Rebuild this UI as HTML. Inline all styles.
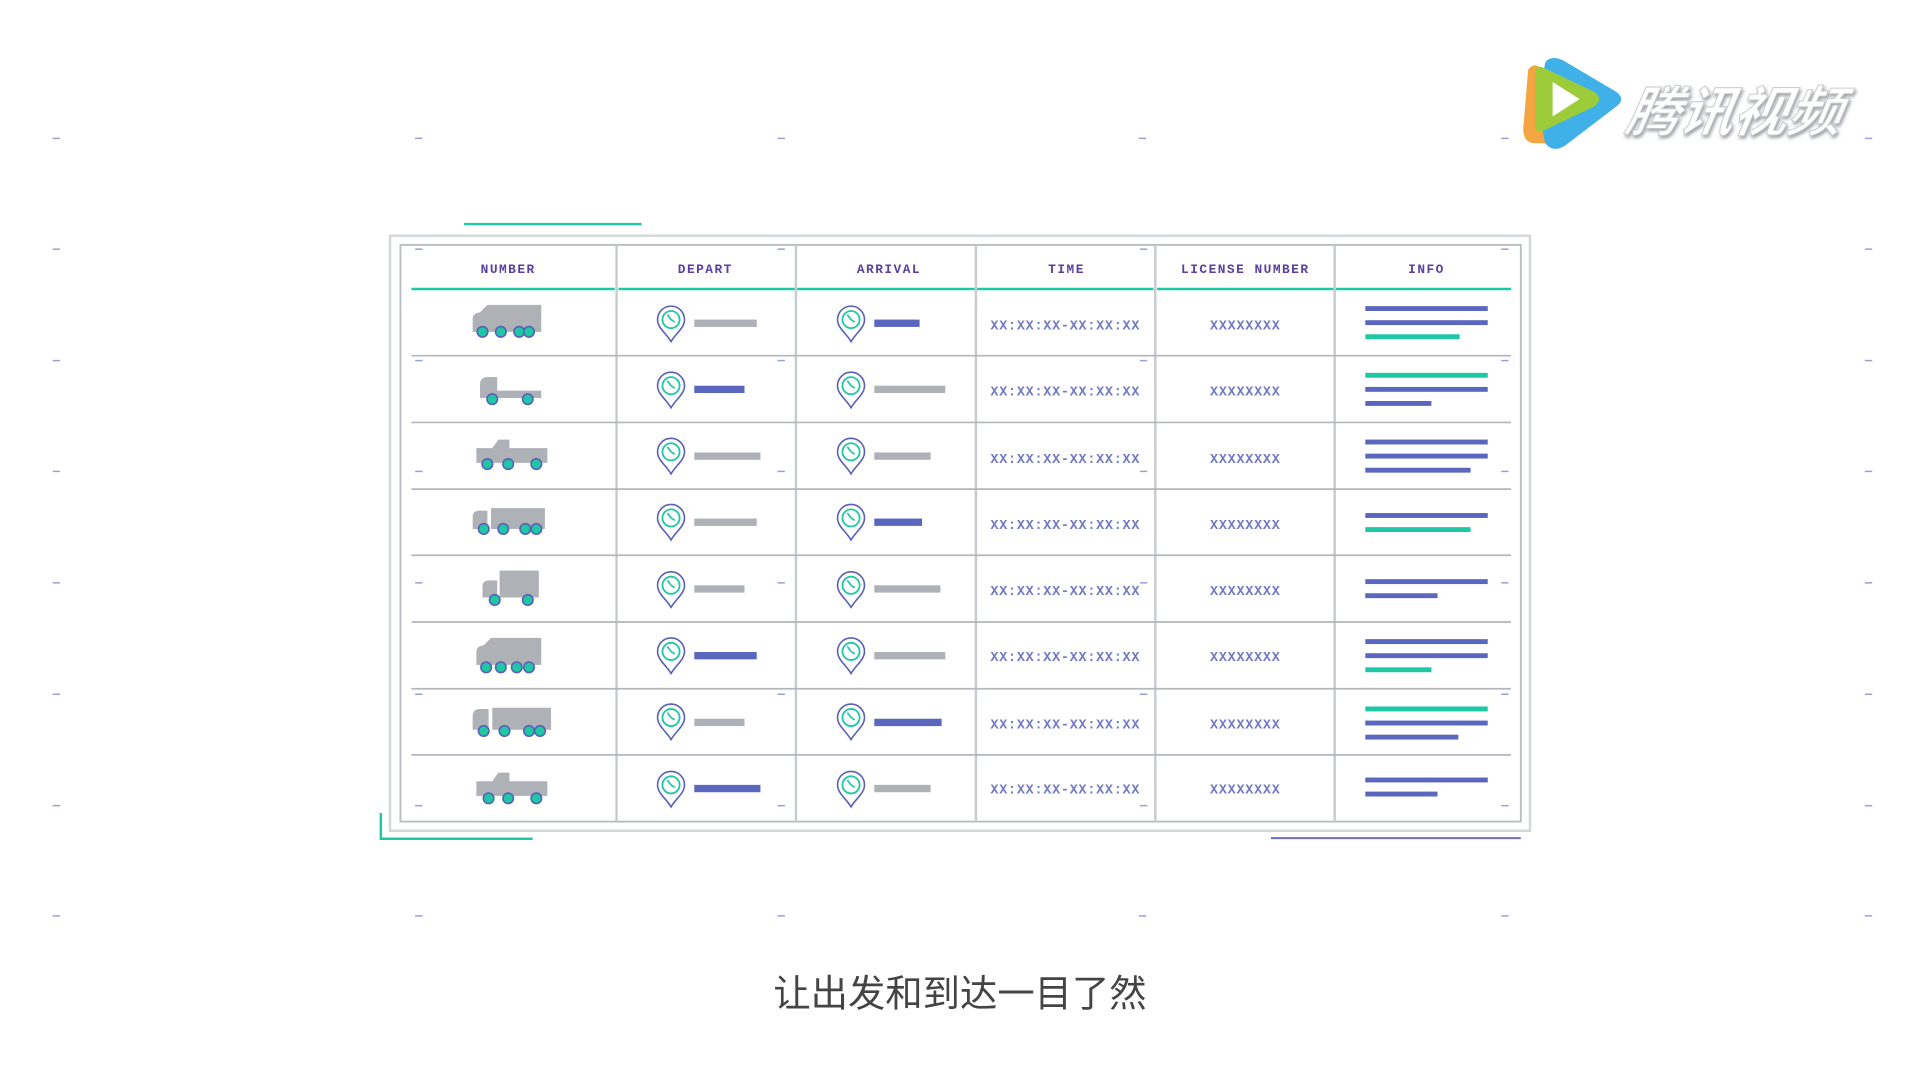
<!DOCTYPE html>
<html><head><meta charset="utf-8"><style>
html,body{margin:0;padding:0;background:#fff;width:1920px;height:1072px;overflow:hidden}
svg{display:block}
.h{font-family:"Liberation Mono",monospace;font-weight:bold;font-size:10.5px;fill:#5a3fa0;letter-spacing:1.2px;text-anchor:middle}
.t{font-family:"Liberation Mono",monospace;font-size:11px;fill:#7178c4;letter-spacing:0.6px;text-anchor:middle;font-weight:bold}
</style></head><body>
<svg width="1920" height="1072" viewBox="0 0 1568 875.5" xmlns="http://www.w3.org/2000/svg">
<defs>
<g id="pin"><path d="M0,13 C-4,6 -11,2 -11,-5 A11,11 0 0 1 11,-5 C11,2 4,6 0,13 Z" fill="#fff" stroke="#5b5fb8" stroke-width="1.3"/><circle cx="0" cy="-5" r="7" fill="none" stroke="#1ec8a5" stroke-width="1.5"/><path d="M0,-5 L-3,-9 M0,-5 L3,-3" stroke="#1ec8a5" stroke-width="1.4"/></g>
<g id="whA"><circle r="4.3" fill="#1ec8a5" stroke="#5b5fb8" stroke-width="1.3"/></g>
<filter id="sh" x="-10%" y="-10%" width="130%" height="140%"><feDropShadow dx="1.5" dy="2" stdDeviation="1.2" flood-color="#8a8d91" flood-opacity="0.8"/></filter>
</defs>
<g stroke="#9a9fd6" stroke-width="1.2">
<g id="dc"><line x1="43" y1="113" x2="49" y2="113"/><line x1="43" y1="203.5" x2="49" y2="203.5"/><line x1="43" y1="294.5" x2="49" y2="294.5"/><line x1="43" y1="385" x2="49" y2="385"/><line x1="43" y1="476" x2="49" y2="476"/><line x1="43" y1="567" x2="49" y2="567"/><line x1="43" y1="658" x2="49" y2="658"/><line x1="43" y1="748" x2="49" y2="748"/></g>
<use href="#dc" x="296"/><use href="#dc" x="592"/><use href="#dc" x="887"/><use href="#dc" x="1183"/><use href="#dc" x="1480"/>
</g>
<line x1="379" y1="183" x2="524" y2="183" stroke="#1ec8a5" stroke-width="2"/>
<path d="M311,664 L311,685 L435,685" fill="none" stroke="#1ec8a5" stroke-width="2"/>
<line x1="1038" y1="684.5" x2="1242" y2="684.5" stroke="#6c6fc2" stroke-width="1.6"/>
<rect x="318.5" y="192.5" width="931" height="486" fill="#fff" stroke="#d4d7da" stroke-width="2"/>
<rect x="327" y="200" width="915" height="471" fill="#fff" stroke="#b8bbbf" stroke-width="1.5"/>
<g stroke="#9a9fd6" stroke-width="1.2">
<g id="dc2"><line x1="339" y1="203.5" x2="345" y2="203.5"/><line x1="339" y1="294.5" x2="345" y2="294.5"/><line x1="339" y1="385" x2="345" y2="385"/><line x1="339" y1="476" x2="345" y2="476"/><line x1="339" y1="567" x2="345" y2="567"/><line x1="339" y1="658" x2="345" y2="658"/></g>
<use href="#dc2" x="296"/><use href="#dc2" x="592"/><use href="#dc2" x="887"/>
</g>
<g stroke="#c8cbce" stroke-width="2">
<line x1="503.5" y1="200" x2="503.5" y2="671"/><line x1="650" y1="200" x2="650" y2="671"/><line x1="797" y1="200" x2="797" y2="671"/><line x1="943.5" y1="200" x2="943.5" y2="671"/><line x1="1090" y1="200" x2="1090" y2="671"/>
</g>
<g stroke="#b3b6ba" stroke-width="1.4">
<line x1="336" y1="290.5" x2="1234" y2="290.5"/><line x1="336" y1="345" x2="1234" y2="345"/><line x1="336" y1="399.5" x2="1234" y2="399.5"/><line x1="336" y1="453.5" x2="1234" y2="453.5"/><line x1="336" y1="508" x2="1234" y2="508"/><line x1="336" y1="562.5" x2="1234" y2="562.5"/><line x1="336" y1="616.5" x2="1234" y2="616.5"/>
</g>
<g stroke="#1ec8a5" stroke-width="2"><line x1="336" y1="236" x2="502" y2="236"/><line x1="505" y1="236" x2="649" y2="236"/><line x1="651" y1="236" x2="796" y2="236"/><line x1="798" y1="236" x2="942" y2="236"/><line x1="945" y1="236" x2="1089" y2="236"/><line x1="1091" y1="236" x2="1234" y2="236"/></g>
<text class="h" x="415" y="223">NUMBER</text><text class="h" x="576" y="223">DEPART</text><text class="h" x="726" y="223">ARRIVAL</text><text class="h" x="871" y="223">TIME</text><text class="h" x="1017" y="223">LICENSE NUMBER</text><text class="h" x="1165" y="223">INFO</text>
<g fill="#aeb1b5">
<g transform="translate(415,263)"><path d="M-29,8 L-29,-3 Q-29,-7 -23,-8 L-17,-14 L27,-14 L27,8 Z"/><use href="#whA" x="-21" y="8"/><use href="#whA" x="-6" y="8"/><use href="#whA" x="9" y="8"/><use href="#whA" x="17" y="8"/></g>
<g transform="translate(415,318)"><path d="M-23,7 L-23,-4 Q-23,-10 -17,-10 L-9,-10 L-9,1 L27,1 L27,7 Z"/><use href="#whA" x="-13" y="8"/><use href="#whA" x="16" y="8"/></g>
<g transform="translate(417,372)"><path d="M-15,-6 L-10,-13 L-1,-13 L-1,-6 L30,-6 L30,6 L-28,6 L-28,-6 Z"/><use href="#whA" x="-19" y="7"/><use href="#whA" x="-2" y="7"/><use href="#whA" x="21" y="7"/></g>
<g transform="translate(415,426)"><path d="M-29,6 L-29,-4 Q-29,-9 -23,-9 L-17,-9 L-17,6 Z"/><rect x="-14" y="-11" width="44" height="17"/><use href="#whA" x="-20" y="6"/><use href="#whA" x="-4" y="6"/><use href="#whA" x="14" y="6"/><use href="#whA" x="23" y="6"/></g>
<g transform="translate(417,481)"><path d="M-23,7 L-23,-2 Q-23,-7 -17,-7 L-11,-7 L-11,7 Z"/><rect x="-9" y="-15" width="32" height="22"/><use href="#whA" x="-13" y="9"/><use href="#whA" x="14" y="9"/></g>
<g transform="translate(415,535)"><path d="M-26,8 L-26,-3 Q-26,-7 -20,-8 L-14,-14 L27,-14 L27,8 Z"/><use href="#whA" x="-18" y="10"/><use href="#whA" x="-6" y="10"/><use href="#whA" x="7" y="10"/><use href="#whA" x="17" y="10"/></g>
<g transform="translate(417,589)"><path d="M-31,7 L-31,-4 Q-31,-10 -25,-10 L-18,-10 L-18,7 Z"/><rect x="-15" y="-11" width="48" height="18"/><use href="#whA" x="-22" y="8"/><use href="#whA" x="-5" y="8"/><use href="#whA" x="15" y="8"/><use href="#whA" x="24" y="8"/></g>
<g transform="translate(417,644)"><path d="M-15,-6 L-10,-13 L-1,-13 L-1,-6 L30,-6 L30,6 L-28,6 L-28,-6 Z"/><use href="#whA" x="-18" y="8"/><use href="#whA" x="-2" y="8"/><use href="#whA" x="21" y="8"/></g>
</g>
<use href="#pin" x="548" y="266"/><use href="#pin" x="548" y="320"/><use href="#pin" x="548" y="374"/><use href="#pin" x="548" y="428"/><use href="#pin" x="548" y="483"/><use href="#pin" x="548" y="537"/><use href="#pin" x="548" y="591"/><use href="#pin" x="548" y="646"/>
<use href="#pin" x="695" y="266"/><use href="#pin" x="695" y="320"/><use href="#pin" x="695" y="374"/><use href="#pin" x="695" y="428"/><use href="#pin" x="695" y="483"/><use href="#pin" x="695" y="537"/><use href="#pin" x="695" y="591"/><use href="#pin" x="695" y="646"/>
<g>
<rect x="567" y="261" width="51" height="6" fill="#aeb1b5"/><rect x="714" y="261" width="37" height="6" fill="#5b67bf"/>
<rect x="567" y="315" width="41" height="6" fill="#5b67bf"/><rect x="714" y="315" width="58" height="6" fill="#aeb1b5"/>
<rect x="567" y="369.5" width="54" height="6" fill="#aeb1b5"/><rect x="714" y="369.5" width="46" height="6" fill="#aeb1b5"/>
<rect x="567" y="423.5" width="51" height="6" fill="#aeb1b5"/><rect x="714" y="423.5" width="39" height="6" fill="#5b67bf"/>
<rect x="567" y="478" width="41" height="6" fill="#aeb1b5"/><rect x="714" y="478" width="54" height="6" fill="#aeb1b5"/>
<rect x="567" y="532.5" width="51" height="6" fill="#5b67bf"/><rect x="714" y="532.5" width="58" height="6" fill="#aeb1b5"/>
<rect x="567" y="587" width="41" height="6" fill="#aeb1b5"/><rect x="714" y="587" width="55" height="6" fill="#5b67bf"/>
<rect x="567" y="641" width="54" height="6" fill="#5b67bf"/><rect x="714" y="641" width="46" height="6" fill="#aeb1b5"/>
</g>
<g>
<text class="t" x="870" y="269">XX:XX:XX-XX:XX:XX</text><text class="t" x="1017" y="269">XXXXXXXX</text>
<text class="t" x="870" y="323">XX:XX:XX-XX:XX:XX</text><text class="t" x="1017" y="323">XXXXXXXX</text>
<text class="t" x="870" y="378">XX:XX:XX-XX:XX:XX</text><text class="t" x="1017" y="378">XXXXXXXX</text>
<text class="t" x="870" y="432">XX:XX:XX-XX:XX:XX</text><text class="t" x="1017" y="432">XXXXXXXX</text>
<text class="t" x="870" y="486">XX:XX:XX-XX:XX:XX</text><text class="t" x="1017" y="486">XXXXXXXX</text>
<text class="t" x="870" y="540">XX:XX:XX-XX:XX:XX</text><text class="t" x="1017" y="540">XXXXXXXX</text>
<text class="t" x="870" y="595">XX:XX:XX-XX:XX:XX</text><text class="t" x="1017" y="595">XXXXXXXX</text>
<text class="t" x="870" y="648">XX:XX:XX-XX:XX:XX</text><text class="t" x="1017" y="648">XXXXXXXX</text>
</g>
<g>
<rect x="1115" y="250" width="100" height="4" fill="#5b67bf"/><rect x="1115" y="261.5" width="100" height="4" fill="#5b67bf"/><rect x="1115" y="273" width="77" height="4" fill="#1ec8a5"/>
<rect x="1115" y="304.5" width="100" height="4" fill="#1ec8a5"/><rect x="1115" y="316" width="100" height="4" fill="#5b67bf"/><rect x="1115" y="327.5" width="54" height="4" fill="#5b67bf"/>
<rect x="1115" y="359" width="100" height="4" fill="#5b67bf"/><rect x="1115" y="370.5" width="100" height="4" fill="#5b67bf"/><rect x="1115" y="382" width="86" height="4" fill="#5b67bf"/>
<rect x="1115" y="419" width="100" height="4" fill="#5b67bf"/><rect x="1115" y="430.5" width="86" height="4" fill="#1ec8a5"/>
<rect x="1115" y="473" width="100" height="4" fill="#5b67bf"/><rect x="1115" y="484.5" width="59" height="4" fill="#5b67bf"/>
<rect x="1115" y="522" width="100" height="4" fill="#5b67bf"/><rect x="1115" y="533.5" width="100" height="4" fill="#5b67bf"/><rect x="1115" y="545" width="54" height="4" fill="#1ec8a5"/>
<rect x="1115" y="577" width="100" height="4" fill="#1ec8a5"/><rect x="1115" y="588.5" width="100" height="4" fill="#5b67bf"/><rect x="1115" y="600" width="76" height="4" fill="#5b67bf"/>
<rect x="1115" y="635" width="100" height="4" fill="#5b67bf"/><rect x="1115" y="646.5" width="59" height="4" fill="#5b67bf"/>
</g>
<text x="784" y="822" text-anchor="middle" font-family="'Liberation Sans','Noto Sans CJK SC',sans-serif" font-size="30.5" fill="#444">让出发和到达一目了然</text>
<g transform="translate(1240,45)">
<path d="M18,10 Q12,6 8,12 L4,60 Q4,72 14,72 L30,72 Z" fill="#f2a541"/>
<path d="M22,6 Q26,0 36,4 L80,30 Q88,36 80,42 L38,74 Q28,80 22,72 Q14,40 22,6 Z" fill="#3fb0e8"/>
<path d="M14,14 Q14,8 20,10 L62,30 Q70,36 62,42 L20,62 Q14,64 14,58 Z" fill="#9ccc3a"/>
<path d="M28,22 L50,36 L28,50 Z" fill="#fff"/>
<text x="86" y="62" font-family="'Liberation Sans','Noto Sans CJK SC',sans-serif" font-size="44" font-weight="bold" font-style="italic" fill="#fff" stroke="#c4c7ca" stroke-width="0.8" filter="url(#sh)" transform="skewX(-10)" transform-origin="86 62">腾讯视频</text>
</g>
</svg>
</body></html>
